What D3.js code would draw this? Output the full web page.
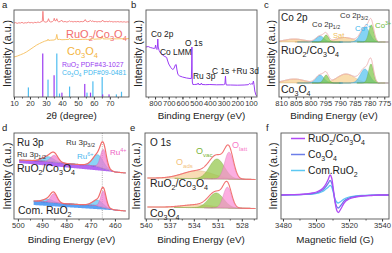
<!DOCTYPE html>
<html>
<head>
<meta charset="utf-8">
<script src="https://cdn.jsdelivr.net/npm/d3@7"></script>
<style>
  body { margin: 0; background: #fff; }
  svg { display: block; }
</style>
</head>
<body>
<div id="chart"></div>
<script>
// ---------- data ----------

// a: XRD (2theta, intensity)
const xrdComposite = [[10,85],[11,85.5],[12,84.6],[13,85.3],[14,85],[15,85.8],[16,84.8],[17,85.4],[18,85.1],[19,86],[20,85.2],[21,85.7],[22,85],[23,85.9],[24,85.4],[25,86.2],[26,85.6],[27,86.5],[27.7,87],[28.1,98.5],[28.5,87.5],[29,86.4],[30,86],[31,86.8],[31.6,90],[32.2,86.8],[33,86.2],[34,86.6],[34.8,88],[35.2,90.5],[35.7,87.5],[36.4,88],[36.8,90],[37.3,87.2],[38,86.4],[39,86.8],[39.8,88.5],[40.2,87],[41,86.4],[42,86.8],[43,86.2],[44,86.6],[44.8,87.6],[45.4,86.5],[46,86.9],[47,86.3],[48,86.8],[49,86.4],[50,86.9],[51,86.3],[52,86.8],[53,86.5],[54,87.2],[54.6,89],[55.2,87],[56,86.5],[57,86.9],[57.9,88],[58.5,86.7],[59.4,87.6],[60,86.5],[61,86.8],[62,86.3],[63,86.7],[64,86.4],[65,87],[65.5,88.4],[66.1,86.8],[67,86.5],[68,86.9],[69,86.3],[69.6,87.5],[70.2,86.5],[71,86.8],[72,86.2],[73,86.6],[74,86.3],[75,86.7],[76,86.2],[77,86.6],[78,86.1],[79,86.5],[80,86],[81,86.4],[82,86.1]];
const xrdCo3O4 = [[10,46],[12,47],[14,48.5],[16,50],[18,52],[20,54.5],[22,57],[24,59.5],[26,61.5],[28,63.2],[29,64],[30,64.6],[31,65],[31.3,66.5],[31.7,65],[33,65.3],[35,65.5],[36.2,66.5],[36.8,72],[37.4,66],[38.5,66.3],[40,65.8],[42,66],[44.4,66.2],[44.8,67.5],[45.3,66.1],[47,66.2],[50,66],[53,66.3],[55,66.4],[56,66.1],[59,66.5],[59.4,67.8],[59.9,66.4],[62,66.6],[64.6,66.8],[65.2,69.5],[65.8,66.8],[68,66.7],[71,66.9],[74,66.8],[77,67],[80,67],[82,67.1]];
const ruo2PdfAngle = [28.0, 35.1, 40.0, 54.3, 57.9, 65.5, 69.5];
const ruo2PdfInt   = [50, 25, 5, 15, 5, 3, 3];
const co3o4PdfAngle = [19.0, 31.3, 36.8, 38.5, 44.8, 55.7, 59.4, 65.2, 74.1, 77.3];
const co3o4PdfInt   = [11, 20, 50, 4, 12, 5, 18, 23, 3, 6];

// b: XPS survey (binding energy, intensity)
const survey = [[866,50],[850,50.5],[835,49.5],[820,49],[806,48.5],[800,49],[796,52],[792,48.5],[786,47.5],[782,52],[780,58],[777,50],[770,46.5],[760,44],[744,42],[730,40.5],[720,40],[715,39.5],[710,37],[700,33],[685,29.5],[672,27.5],[662,28.5],[652,32],[646,32.5],[640,27],[633,22.5],[620,21],[600,20],[570,19],[545,18.5],[535,18.5],[532.5,30],[531,50],[529.5,25],[528,15],[524,12.5],[510,12.5],[490,12.8],[485,14],[481,12.5],[466,12.5],[462,14],[457,12.5],[430,12.3],[400,12.5],[350,12.2],[300,12.3],[290,13],[286,21],[283,14],[280,12],[250,12],[200,11.8],[150,12],[120,12.3],[110,13.5],[105,12.8],[95,13.2],[88,12.8],[82,16],[78,12.5],[72,6],[64,2],[58,1]];
const surveyLabels = ["Co 2p", "Co LMM", "O 1s", "Ru 3p", "C 1s +Ru 3d"];

// c: Co 2p fits (centre eV, height, fwhm)
const coCompositePeaks = [
  {state: "Sat.", c: 805.5, h: 3, w: 8}, {state: "Sat.", c: 788.5, h: 4.5, w: 7},
  {state: "Co2+", c: 796.8, h: 6, w: 3.2}, {state: "Co3+", c: 794.7, h: 7, w: 2.0},
  {state: "Co2+", c: 781.5, h: 15, w: 3.6}, {state: "Co3+", c: 779.4, h: 17, w: 2.0}];
const coPurePeaks = [
  {state: "Sat.", c: 805.5, h: 4, w: 8}, {state: "Sat.", c: 788, h: 9, w: 7},
  {state: "Co2+", c: 796.8, h: 8, w: 3.2}, {state: "Co3+", c: 794.7, h: 8, w: 2.0},
  {state: "Co2+", c: 781.6, h: 14, w: 3.6}, {state: "Co3+", c: 779.5, h: 19, w: 2.0}];
const coCompositeBase = [[810.5, 55], [773.6, 55]];
const coPureBase = [[810.5, 14], [773.6, 14]];

// d: Ru 3p fits
const ruCompositePeaks = [
  {state: "Ru6+", c: 487.5, h: 5, w: 5.5}, {state: "Ru4+", c: 485, h: 7, w: 3.5},
  {state: "Ru6+", c: 467, h: 12, w: 5}, {state: "Ru4+", c: 464.8, h: 19, w: 2.8}];
const ruComPeaks = [
  {state: "Ru6+", c: 487.5, h: 3, w: 5}, {state: "Ru4+", c: 485.2, h: 9, w: 3.2},
  {state: "Ru6+", c: 467, h: 6, w: 5}, {state: "Ru4+", c: 464.8, h: 16.5, w: 2.6}];
const ruCompositeBg = [[499.5,59],[490,58],[484,56.5],[478,55],[472,54],[468,53],[464,50],[460,47],[455.5,46]];
const ruCompositeBase = [[499.5, 56], [455.5, 46]];
const ruComBg = [[493.5,18],[488,17],[482,15.5],[475,14.5],[468,13.5],[464,11],[460,9],[455.5,8]];
const ruComBase = [[493.5, 14], [455.5, 8]];
const ruMarker = 465.2;

// e: O 1s fits
const oCompositePeaks = [
  {state: "Oads", c: 533.5, h: 8, w: 4.5}, {state: "Ovac", c: 531.1, h: 20, w: 2.2},
  {state: "Olatt", c: 529.6, h: 27, w: 1.3}];
const oPurePeaks = [
  {state: "Oads", c: 533.5, h: 3, w: 4.5}, {state: "Ovac", c: 531.2, h: 15, w: 2.2},
  {state: "Olatt", c: 529.8, h: 21, w: 1.2}];
const oCompositeBase = [[539.8, 41], [526.3, 39.5]];
const oPureBase = [[539.8, 12], [526.3, 10.5]];

// f: EPR
const eprField = [3479,3485,3490,3494,3498,3501,3504,3506,3507.5,3508.5,3509.5,3510.5,3511.5,3512.5,3513.5,3515,3517,3520,3524,3528,3533,3538,3544];
const eprComposite = [0,0.3,0.5,1,2,3.5,6.5,11,16,20,17,6,-7,-15,-17.5,-14,-8,-4,-2,-1,-0.5,0,0];
const eprCo3O4     = [0,0.2,0.4,0.8,1.5,2.5,5,8.5,12,14.5,12,4,-6,-11.5,-13,-10.5,-6,-3,-1.5,-0.8,-0.3,0,0];
const eprRuO2      = [0,0.2,0.3,0.6,1,1.8,3.5,6,8,9.7,8,2.5,-4,-7,-8,-6.5,-4,-2,-1,-0.5,-0.2,0,0];
const eprNames = ["RuO_{2}/Co_{3}O_{4}", "Co_{3}O_{4}", "Com.RuO_{2}"];

// ---------- styles ----------
const FONT = '"Liberation Sans", Arial, Helvetica, sans-serif';
const fitColors = {
  "Sat.": "#f7d08e", "Co2+": "#55c2f0", "Co3+": "#80c64a",
  "Ru6+": "#5ec4f2", "Ru4+": "#f27ad0",
  "Oads": "#f6cf98", "Ovac": "#93c64a", "Olatt": "#fb8fd6"
};
const eprColors = ["#b04af5", "#6c7ee8", "#5cc8f2"];

const width = 392, height = 253;
const svg = d3.select("#chart").append("svg")
  .attr("width", width).attr("height", height)
  .attr("viewBox", [0, 0, width, height])
  .attr("font-family", FONT);

// text with _{sub} and ^{sup}
function rich(g, x, y, str, size, color, anchor = "start") {
  const t = g.append("text").attr("x", x).attr("y", y)
    .attr("font-size", size).attr("fill", color).attr("text-anchor", anchor);
  const re = /([_^])\{([^}]*)\}|([^_^]+)/g;
  let m, shift = 0;
  while ((m = re.exec(str))) {
    if (m[3]) {
      t.append("tspan").attr("dy", -shift).text(m[3]);
      shift = 0;
    } else {
      const s = m[1] === "_" ? size * 0.28 : -size * 0.4;
      t.append("tspan").attr("dy", s - shift).attr("font-size", size * 0.68).text(m[2]);
      shift = s;
    }
  }
  return t;
}

function panel(box, xDomain, yDomain, ticks, minor, xTitle, letter, yLabelX, titleGap) {
  const g = svg.append("g");
  const x = d3.scaleLinear().domain(xDomain).range([box.left, box.right]);
  const y = d3.scaleLinear().domain(yDomain).range([box.bottom, box.top]);

  svg.append("clipPath").attr("id", "clip-" + letter)
    .append("rect").attr("x", box.left).attr("y", box.top)
    .attr("width", box.right - box.left).attr("height", box.bottom - box.top);
  const plot = g.append("g").attr("clip-path", `url(#clip-${letter})`);

  g.append("g").attr("transform", `translate(0,${box.bottom})`)
    .call(d3.axisBottom(x).tickValues(minor).tickSize(1.5).tickFormat(""))
    .call(a => a.select(".domain").remove())
    .attr("color", "#555");
  g.append("g").attr("transform", `translate(0,${box.bottom})`)
    .call(d3.axisBottom(x).tickValues(ticks).tickSize(2.5).tickPadding(1.5).tickSizeOuter(0).tickFormat(d3.format("d")))
    .call(a => a.select(".domain").remove())
    .attr("font-family", FONT).attr("font-size", 7.6).attr("color", "#333");

  g.append("rect").attr("x", box.left).attr("y", box.top)
    .attr("width", box.right - box.left).attr("height", box.bottom - box.top)
    .attr("fill", "none").attr("stroke", "#555").attr("stroke-width", 0.9);

  g.append("text").attr("x", (box.left + box.right) / 2).attr("y", box.bottom + titleGap)
    .attr("text-anchor", "middle").attr("font-size", 9.8).attr("fill", "#222").text(xTitle);
  g.append("text")
    .attr("transform", `translate(${yLabelX},${(box.top + box.bottom) / 2}) rotate(-90)`)
    .attr("text-anchor", "middle").attr("dy", "0.35em")
    .attr("font-size", 10.6).attr("fill", "#222").text("Intensity (a.u.)");
  g.append("text").attr("x", box.left - (box.left < 20 ? 12 : 15)).attr("y", box.top - 1.8)
    .attr("font-size", 9.5).attr("fill", "#222").text(letter);
  return {x, y, plot, g};
}

const gauss = (be, p) => p.h * Math.exp(-4 * Math.LN2 * ((be - p.c) / p.w) ** 2);
const piecewise = pts => d3.scaleLinear().domain(pts.map(d => d[0])).range(pts.map(d => d[1]));

function drawFit(P, base, peaks, envColor, envWidth) {
  const hi = base.domain()[0], lo = base.domain()[base.domain().length - 1];
  peaks.forEach(p => {
    const a = Math.min(hi, p.c + 2.4 * p.w), b = Math.max(lo, p.c - 2.4 * p.w);
    const grid = d3.range(b, a, 0.04).concat([a]);
    const col = fitColors[p.state];
    P.plot.append("path").datum(grid)
      .attr("fill", col).attr("fill-opacity", 0.72)
      .attr("stroke", d3.color(col).darker(0.5)).attr("stroke-width", 0.4)
      .attr("d", d3.area().x(d => P.x(d)).y0(d => P.y(base(d))).y1(d => P.y(base(d) + gauss(d, p))));
  });
  const grid = d3.range(lo, hi, 0.04).concat([hi]);
  P.plot.append("path").datum(grid)
    .attr("fill", "none").attr("stroke", envColor).attr("stroke-width", envWidth)
    .attr("d", d3.line().x(d => P.x(d)).y(d => P.y(base(d) + d3.sum(peaks, p => gauss(d, p)))));
}

// ---------- a ----------
const A = panel({left: 14, right: 129, top: 10, bottom: 97}, [10, 82], [0, 100],
  d3.range(10, 71, 10), d3.range(15, 80, 10), "2θ (degree)", "a", 7, 22);
const lineA = d3.line().x(d => A.x(d[0])).y(d => A.y(d[1]));
A.plot.append("path").datum(xrdComposite).attr("fill", "none").attr("stroke", "#f47b7b").attr("stroke-width", 0.9).attr("d", lineA);
A.plot.append("path").datum(xrdCo3O4).attr("fill", "none").attr("stroke", "#f6c05f").attr("stroke-width", 0.9).attr("d", lineA);
A.plot.selectAll(".co").data(co3o4PdfAngle).join("rect")
  .attr("x", d => A.x(d) - 0.6).attr("width", 1.2)
  .attr("y", (d, i) => A.y(co3o4PdfInt[i])).attr("height", (d, i) => A.y(0) - A.y(co3o4PdfInt[i]))
  .attr("fill", "#4fbdf0");
A.plot.selectAll(".ru").data(ruo2PdfAngle).join("rect")
  .attr("x", d => A.x(d) - 0.6).attr("width", 1.2)
  .attr("y", (d, i) => A.y(ruo2PdfInt[i])).attr("height", (d, i) => A.y(0) - A.y(ruo2PdfInt[i]))
  .attr("fill", "#9b3cf0");
rich(A.g, 66, 37.5, "RuO_{2}/Co_{3}O_{4}", 11, "#f26d6d");
rich(A.g, 67, 54.5, "Co_{3}O_{4}", 11, "#f3b43f");
rich(A.g, 62, 66.5, "RuO_{2} PDF#43-1027", 6.9, "#9a3cf0");
rich(A.g, 62, 75, "Co_{3}O_{4} PDF#09-0481", 6.9, "#43b8ee");

// ---------- b ----------
const B = panel({left: 146, right: 257, top: 10, bottom: 97}, [866, 56], [0, 87],
  d3.range(800, 99, -100), d3.range(850, 60, -50), "Binding Energy (eV)", "b", 138, 22);
B.plot.append("path").datum(survey).attr("fill", "none").attr("stroke", "#9a3cf5").attr("stroke-width", 1)
  .attr("d", d3.line().x(d => B.x(d[0])).y(d => B.y(d[1])));
const surveyLabelPos = [[151, 36.5], [160, 55], [185, 46], [193, 79], [212, 74]];
surveyLabels.forEach((t, i) => rich(B.g, surveyLabelPos[i][0], surveyLabelPos[i][1], t, 8.4, "#222"));

// ---------- c ----------
const C = panel({left: 279, right: 389, top: 10, bottom: 97}, [810.7, 773.4], [0, 87],
  d3.range(810, 774, -5), d3.range(807.5, 774, -5), "Binding Energy (eV)", "c", 271, 22);
drawFit(C, piecewise(coCompositeBase), coCompositePeaks, "#f2b3b3", 1);
drawFit(C, piecewise(coPureBase), coPurePeaks, "#f2b3b3", 1);
rich(C.g, 281, 20.5, "Co 2p", 10, "#222");
rich(C.g, 312, 27, "Co 2p_{1/2}", 7.8, "#333");
rich(C.g, 340, 18, "Co 2p_{3/2}", 7.8, "#333");
rich(C.g, 333, 37.5, "Sat.", 7.6, "#f0c060");
rich(C.g, 355, 31, "Co^{2+}", 7.8, "#3bb4ec");
rich(C.g, 375, 28, "Co^{3+}", 7.8, "#6ab83a");
rich(C.g, 281, 54, "RuO_{2}/Co_{3}O_{4}", 10.5, "#222");
rich(C.g, 281, 93, "Co_{3}O_{4}", 10.5, "#222");

// ---------- d ----------
const D = panel({left: 14, right: 129, top: 133, bottom: 219}, [501.6, 454.2], [0, 86],
  d3.range(500, 459, -10), d3.range(495, 455, -10), "Binding Energy (eV)", "d", 7, 24);
[[ruCompositeBase, ruCompositeBg, "#a64cf0"], [ruComBase, ruComBg, "#3d8ff2"]].forEach(([lowPts, upPts, col]) => {
  const low = piecewise(lowPts), up = piecewise(upPts);
  const grid = d3.range(upPts[upPts.length - 1][0], upPts[0][0], 0.1).concat([upPts[0][0]]);
  D.plot.append("path").datum(grid).attr("fill", col).attr("fill-opacity", 0.85)
    .attr("d", d3.area().x(d => D.x(d)).y0(d => D.y(low(d))).y1(d => D.y(up(d))));
});
D.plot.append("line").attr("x1", D.x(ruMarker)).attr("x2", D.x(ruMarker))
  .attr("y1", D.y(86)).attr("y2", D.y(0))
  .attr("stroke", "#999").attr("stroke-width", 0.8).attr("stroke-dasharray", "1,1.2");
drawFit(D, piecewise(ruCompositeBg), ruCompositePeaks, "#f26c6c", 1.2);
drawFit(D, piecewise(ruComBg), ruComPeaks, "#f26c6c", 1.2);
rich(D.g, 17, 146, "Ru 3p", 10, "#222");
rich(D.g, 17, 156.5, "Ru 3p_{1/2}", 8, "#333");
rich(D.g, 66, 145, "Ru 3p_{3/2}", 8, "#333");
rich(D.g, 77, 159, "Ru^{6+}", 8, "#4bb8ef");
rich(D.g, 110, 155, "Ru^{4+}", 8, "#ee62c4");
rich(D.g, 17, 172, "RuO_{2}/Co_{3}O_{4}", 10.5, "#222");
rich(D.g, 18, 214, "Com. RuO_{2}", 10.5, "#222");

// ---------- e ----------
const E = panel({left: 145, right: 257, top: 133, bottom: 219}, [540.1, 526.1], [0, 86],
  [540, 537, 534, 531, 528], d3.range(538.5, 526, -3), "Binding Energy (eV)", "e", 136, 24);
drawFit(E, piecewise(oCompositeBase), oCompositePeaks, "#f27474", 1.1);
drawFit(E, piecewise(oPureBase), oPurePeaks, "#f27474", 1.1);
rich(E.g, 150, 146, "O 1s", 10, "#222");
rich(E.g, 176, 165, "O_{ads}", 9, "#f3c27c");
rich(E.g, 196, 154, "O_{vac}", 9, "#7bb53a");
rich(E.g, 232, 148, "O_{latt}", 9, "#f77bc9");
rich(E.g, 150, 187, "RuO_{2}/Co_{3}O_{4}", 10.5, "#222");
rich(E.g, 150, 217, "Co_{3}O_{4}", 10.5, "#222");

// ---------- f ----------
const F = panel({left: 281, right: 389, top: 133, bottom: 219}, [3478.8, 3544.2], [-24, 62],
  d3.range(3480, 3541, 20), d3.range(3490, 3544, 20), "Magnetic field (G)", "f", 273, 24);
const eprSeries = [eprRuO2, eprCo3O4, eprComposite];
const eprColorOrder = [eprColors[2], eprColors[1], eprColors[0]];
eprSeries.forEach((vals, i) => {
  F.plot.append("path").datum(eprField.map((f, j) => [f, vals[j]]))
    .attr("fill", "none").attr("stroke", eprColorOrder[i]).attr("stroke-width", 1.3)
    .attr("d", d3.line().curve(d3.curveMonotoneX).x(d => F.x(d[0])).y(d => F.y(d[1])));
});
eprNames.forEach((t, i) => {
  const yy = 138.5 + i * 16;
  F.g.append("line").attr("x1", 291).attr("x2", 305).attr("y1", yy).attr("y2", yy)
    .attr("stroke", eprColors[i]).attr("stroke-width", 1.5);
  rich(F.g, 308, yy + 3.6, t, 10.3, "#222");
});
</script>
</body>
</html>
